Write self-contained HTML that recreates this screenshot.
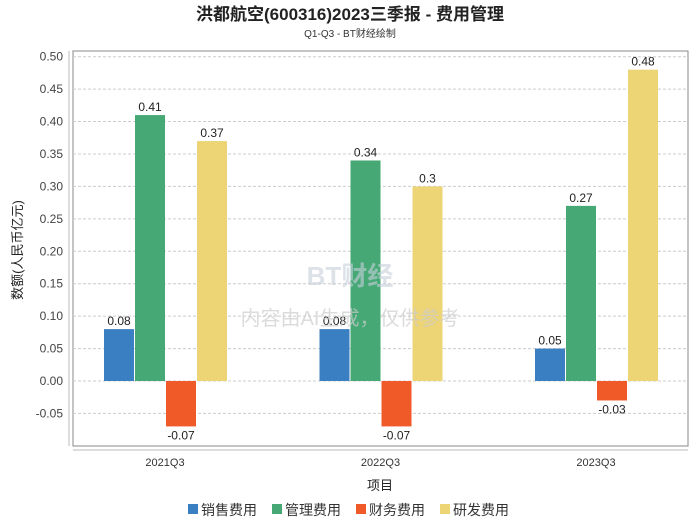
<!DOCTYPE html>
<html><head><meta charset="utf-8"><style>
body{margin:0;background:#fff;font-family:"Liberation Sans","Noto Sans CJK SC",sans-serif}
</style></head><body>
<svg width="700" height="524" xmlns="http://www.w3.org/2000/svg" font-family="Liberation Sans, Noto Sans CJK SC, sans-serif">
<text x="350" y="20" text-anchor="middle" font-size="17" font-weight="bold" fill="#222">洪都航空(600316)2023三季报 - 费用管理</text>
<text x="350" y="37" text-anchor="middle" font-size="10" fill="#333">Q1-Q3 - BT财经绘制</text>
<rect x="73" y="51" width="615" height="395" fill="none" stroke="#888"/>
<line x1="69" y1="51" x2="69" y2="446" stroke="#bbb"/>
<line x1="73" y1="450" x2="688" y2="450" stroke="#bbb"/>
<g id="grid"></g><g id="bars"></g>
<text x="22" y="250" transform="rotate(-90 22 250)" text-anchor="middle" font-size="13" fill="#222">数额(人民币亿元)</text>
<text x="380" y="490" text-anchor="middle" font-size="13" fill="#222">项目</text>
<text x="350" y="285" text-anchor="middle" font-size="26" fill="#c8d0dc" opacity="0.6" font-weight="bold">BT财经</text>
<text x="350" y="325" text-anchor="middle" font-size="20" fill="#ccc" opacity="0.7">内容由AI生成，仅供参考</text>
<g id="legend"></g>
</svg>
<script>
const categories=["2021Q3","2022Q3","2023Q3"];
const seriesNames=["销售费用","管理费用","财务费用","研发费用"];
const colors=["#3a7fc1","#45a875","#f05a28","#edd576"];
const sales=[0.08,0.08,0.05];
const admin=[0.41,0.34,0.27];
const fin=[-0.07,-0.07,-0.03];
const rnd=[0.37,0.3,0.48];
const yTicks=[-0.05,0,0.05,0.1,0.15,0.2,0.25,0.3,0.35,0.4,0.45,0.5];
const NS="http://www.w3.org/2000/svg";
const y=v=>381-v*648.6;
const groupX=i=>165+i*215.5;
function mk(t,a,p){const e=document.createElementNS(NS,t);for(const k in a)e.setAttribute(k,a[k]);p.appendChild(e);return e;}
const grid=document.getElementById('grid'),bars=document.getElementById('bars'),lg=document.getElementById('legend');
yTicks.forEach(v=>{
 const l=mk('line',{x1:73,x2:688,y1:y(v),y2:y(v),stroke:'#ccc','stroke-dasharray':'3,2'},grid);
 
 
 const t=mk('text',{x:63,y:y(v)+4,'text-anchor':'end','font-size':12,fill:'#444'},grid);
 t.textContent=v.toFixed(2);
 
 
});
const data=[sales,admin,fin,rnd];
categories.forEach((c,i)=>{
 const t=mk('text',{x:groupX(i),y:466,'text-anchor':'middle','font-size':11,fill:'#333'},bars);
 t.textContent=c;
 
 
 data.forEach((s,j)=>{
  const v=s[i],x=groupX(i)-61+j*31;
  const r=mk('rect',{x:x,y:Math.min(y(v),y(0)),width:30,height:Math.abs(y(v)-y(0)),fill:colors[j]},bars);
  
  
  const lt=mk('text',{x:x+15,y:v>=0?y(v)-4:y(v)+13,'text-anchor':'middle','font-size':12,fill:'#222'},bars);
  lt.textContent=String(v);
  
  
 });
});
seriesNames.forEach((n,j)=>{
 const x=188+j*84;
 const r=mk('rect',{x:x,y:504,width:10,height:10,fill:colors[j]},lg);
 
 
 const t=mk('text',{x:x+13,y:515,'font-size':14,fill:'#333'},lg);
 t.textContent=n;
 
 
});
</script>
</body></html>
